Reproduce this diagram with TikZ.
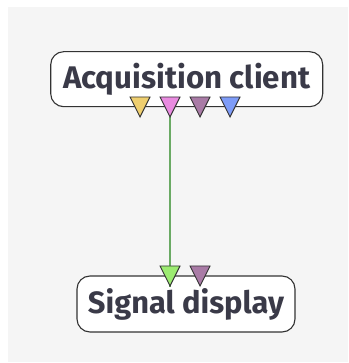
\documentclass[tikz,border=0pt]{standalone}
\usepackage{fontspec}
\setmainfont{Fira Sans}
\definecolor{canvas}{HTML}{F5F5F5}
\definecolor{edge}{HTML}{333333}
\definecolor{ink}{HTML}{3A3A48}
\definecolor{portyellow}{HTML}{EFCF6F}
\definecolor{portpink}{HTML}{E98BE0}
\definecolor{portmauve}{HTML}{A97BA6}
\definecolor{portblue}{HTML}{7E9CF8}
\definecolor{portgreen}{HTML}{9CEB71}
\definecolor{wire}{HTML}{6AAA64}
\tikzset{
  block/.style={draw=edge, line width=1.1pt, fill=white, rounded corners=13pt,
    inner sep=0pt, font=\bfseries, text=ink},
  portshape/.style={draw=edge, line width=0.9pt, fill=#1},
  link/.style={draw=wire, line width=1.2pt}
}
\begin{document}
\begin{tikzpicture}[x=1pt,y=1pt]
  % canvas
  \fill[white] (0,0) rectangle (348,363);
  \fill[canvas] (8,1) rectangle (348,356);
  \useasboundingbox (0,0) rectangle (348,363);

  % blocks
  \node[block, minimum width=272pt, minimum height=55pt] (client) at (186.7,283.8)
    {\resizebox{247pt}{!}{Acquisition client}};
  \node[block, minimum width=218pt, minimum height=56pt] (display) at (186,59)
    {\resizebox{196pt}{!}{Signal display}};

  % port anchors (top edge centre of each triangle)
  \coordinate (out1) at (140,266);
  \coordinate (out2) at (170,266);
  \coordinate (out3) at (200,266);
  \coordinate (out4) at (230,266);
  \coordinate (in1) at (170,97);
  \coordinate (in2) at (200,97);
  \coordinate (out2tip) at (170,246);
  \coordinate (in1tip) at (170,76);

  % connection
  \draw[link] (out2tip) -- (in1tip);

  % ports
  \foreach \p/\c in {out1/portyellow, out2/portpink, out3/portmauve, out4/portblue,
                     in1/portgreen, in2/portmauve}{
    \draw[portshape=\c] ([xshift=-10pt]\p) -- ([xshift=10pt]\p) -- ([yshift=-20pt]\p) -- cycle;
  }
\end{tikzpicture}
\end{document}
